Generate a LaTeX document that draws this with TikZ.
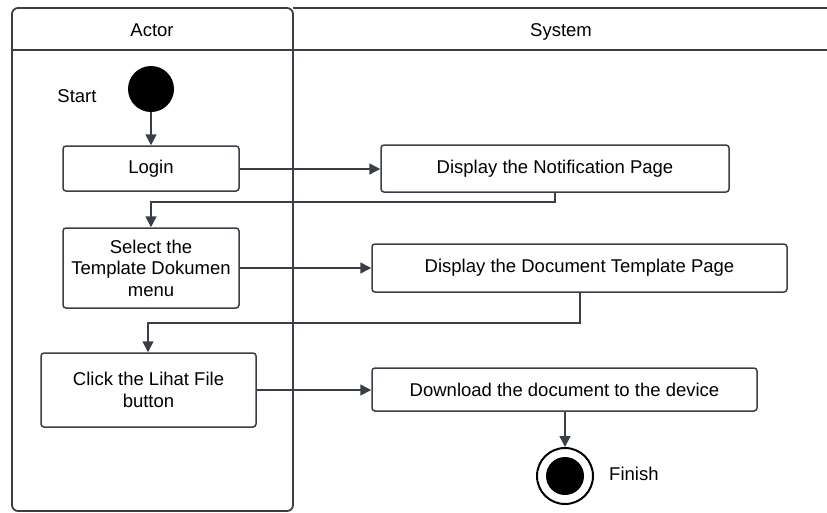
\documentclass[tikz,border=0pt]{standalone}
\usepackage{fontspec}
\setmainfont{Liberation Sans}
\usetikzlibrary{arrows.meta}
\definecolor{ink}{HTML}{3A3F47}
\begin{document}
\begin{tikzpicture}[x=1pt,y=-1pt,
  lane/.style={draw=ink,line width=1.8pt},
  act/.style={draw=ink,line width=1.5pt,rounded corners=3pt,fill=white,align=center,
    font=\fontsize{18.5}{21.5}\selectfont,inner sep=0pt},
  flow/.style={draw=ink,line width=1.5pt,-{Triangle[length=11pt,width=11pt]}},
  lbl/.style={font=\fontsize{18.5}{21.5}\selectfont,text=black,text height=13pt,text depth=4pt,inner sep=0pt}]
\useasboundingbox (0,0) rectangle (827,512);
\fill[white] (0,0) rectangle (827,512);
% swimlanes
\draw[lane,rounded corners=6pt] (293,8) -- (12,8) -- (12,511) -- (293,511) -- cycle;
\draw[lane] (293,8) -- (828,8);
\draw[lane] (12,50) -- (828,50);
\node[lbl] (actor) at (152,32) {Actor};
\node[lbl] (system) at (561,32) {System};
% start
\node[circle,fill=black,minimum size=46pt,inner sep=0pt] (start) at (151,89) {};
\node[lbl] (startlbl) at (77,98) {Start};
% activities
\node[act,minimum width=176pt,minimum height=45pt] (login) at (151,168.5) {Login};
\node[act,minimum width=348pt,minimum height=47pt] (notif) at (555,168.5) {Display the Notification Page};
\node[act,minimum width=176pt,minimum height=80pt] (select) at (151,268) {Select the\\Template Dokumen\\menu};
\node[act,minimum width=415pt,minimum height=48pt] (doctpl) at (579.5,268) {Display the Document Template Page};
\node[act,minimum width=215pt,minimum height=74pt] (click) at (148.5,390) {Click the Lihat File\\button};
\node[act,minimum width=385pt,minimum height=43pt] (download) at (564.5,389.5) {Download the document to the device};
% finish
\node[circle,draw=black,line width=2pt,fill=white,minimum size=56pt,inner sep=0pt] (finish) at (565,476) {};
\node[circle,fill=black,minimum size=38pt,inner sep=0pt] (finishdot) at (finish) {};
\node[lbl,anchor=west] (finishlbl) at (609,476) {Finish};
% flows
\draw[flow] (start) -- (login);
\draw[flow] (login.east |- 0,169) -- (notif.west |- 0,169);
\draw[flow] (notif.south -| 555,0) -- (555,202) -- (151,202) -- (select.north);
\draw[flow] (select.east |- 0,268) -- (doctpl.west |- 0,268);
\draw[flow] (doctpl.south -| 580,0) -- (580,323) -- (148,323) -- (click.north -| 148,0);
\draw[flow] (click.east |- 0,390) -- (download.west |- 0,390);
\draw[flow] (download.south -| 565,0) -- (finish.north);
\end{tikzpicture}
\end{document}
